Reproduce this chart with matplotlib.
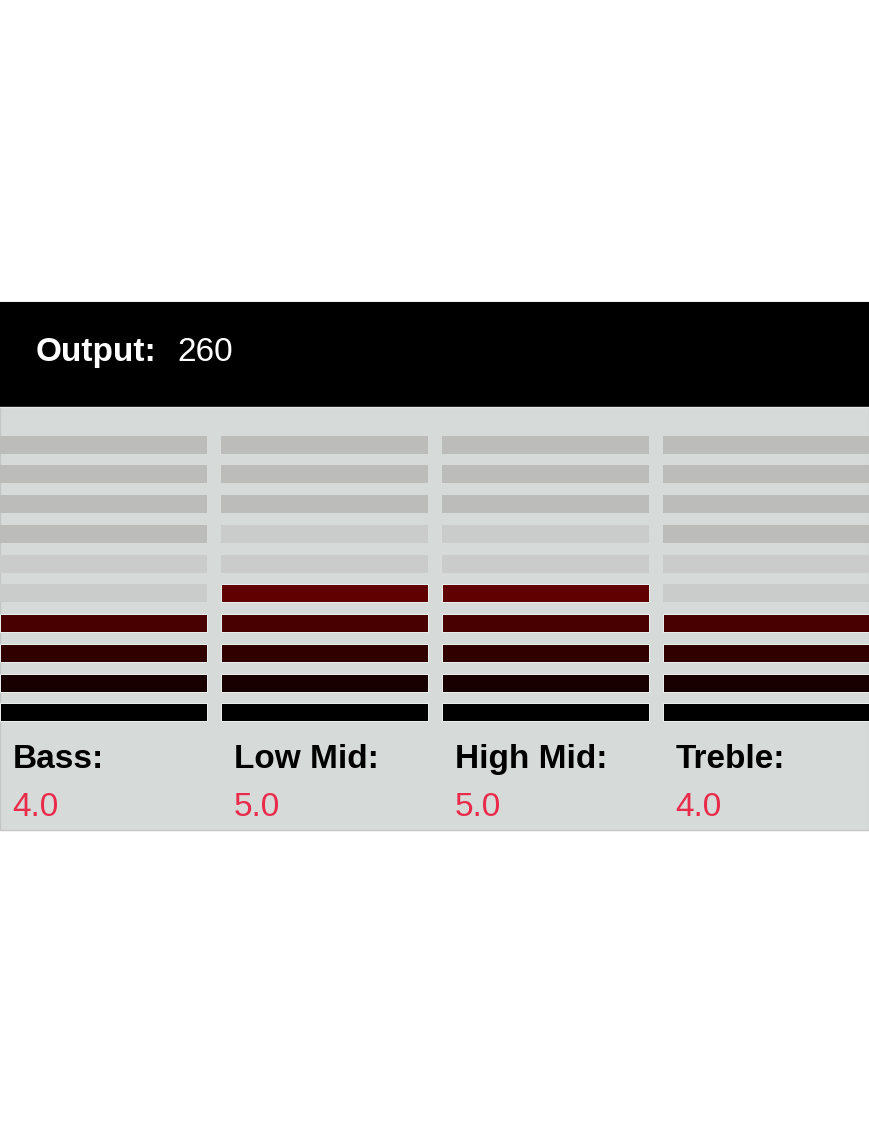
import matplotlib
matplotlib.use("Agg")
import matplotlib.pyplot as plt
from matplotlib.patches import Rectangle

# ---- data ----
bands = ["Bass:", "Low Mid:", "High Mid:", "Treble:"]
levels = [4.0, 5.0, 5.0, 4.0]
fade_segments = [2, 2, 2, 2]
n_segments = 10
output_label = "Output:"
output_value = 260

lit_colors = ["#000000", "#180000", "#300000", "#480000", "#600000",
              "#780000", "#900000", "#a80000", "#c00000", "#d80000"]
unlit_color = "#bcbcbb"
fade_color = "#cacbcb"

W, H = 870, 1131
fig = plt.figure(figsize=(W / 100, H / 100), dpi=100)
fig.patch.set_facecolor("white")

def fx(px):
    return px / W

def fy(py):
    return 1 - py / H

# background panels
bg = fig.add_axes([0, 0, 1, 1])
bg.set_xlim(0, W)
bg.set_ylim(H, 0)
bg.axis("off")
bg.add_patch(Rectangle((0, 302), 869, 527.5, facecolor="#d6dad9",
                       edgecolor="#c4c6c6", linewidth=1.0))
bg.add_patch(Rectangle((0, 302), 870, 104.5, facecolor="#000000",
                       edgecolor="none"))
bg.plot([0, 870], [407, 407], color="#e4e8e8", linewidth=1.0)

# meter axes: x = band index, y = segment index
pitch_x = 220.85
first_center = 103.65
left_px = first_center - pitch_x / 2
right_px = left_px + 4 * pitch_x
seg_pitch = 29.73
bottom_px = 712.3 + seg_pitch / 2
top_px = bottom_px - n_segments * seg_pitch
ax = fig.add_axes([fx(left_px), fy(bottom_px),
                   fx(right_px - left_px), (bottom_px - top_px) / H])
ax.set_xlim(-0.5, 3.5)
ax.set_ylim(-0.5, n_segments - 0.5)
ax.axis("off")
ax.patch.set_alpha(0)

bar_w = 207.0 / pitch_x
bar_h = 18.0 / seg_pitch
for i, lvl in enumerate(levels):
    for k in range(n_segments):
        if k < lvl:
            col, ec, lw = lit_colors[k], "#eef2f2", 0.7
        elif k < lvl + fade_segments[i]:
            col, ec, lw = fade_color, "none", 0
        else:
            col, ec, lw = unlit_color, "none", 0
        ax.bar(i, bar_h, bottom=k - bar_h / 2, width=bar_w, color=col,
               edgecolor=ec, linewidth=lw, clip_on=False)

font = "Liberation Sans"
# header text
fig.text(fx(36), fy(361), output_label, fontsize=24, fontweight="bold",
         color="white", family=font, va="baseline", ha="left")
fig.text(fx(177), fy(361), str(output_value), fontsize=24,
         color="white", family=font, va="baseline", ha="left")

# labels and values
for i, (name, lvl) in enumerate(zip(bands, levels)):
    x0 = 13 + i * 221
    fig.text(fx(x0), fy(768), name, fontsize=24, fontweight="bold",
             color="black", family=font, va="baseline", ha="left")
    fig.text(fx(x0 - 0.5), fy(816), f"{lvl:.1f}", fontsize=24,
             color="#ea2a4a", family=font, va="baseline", ha="left")

fig.savefig("out.png", dpi=100, facecolor="white")
